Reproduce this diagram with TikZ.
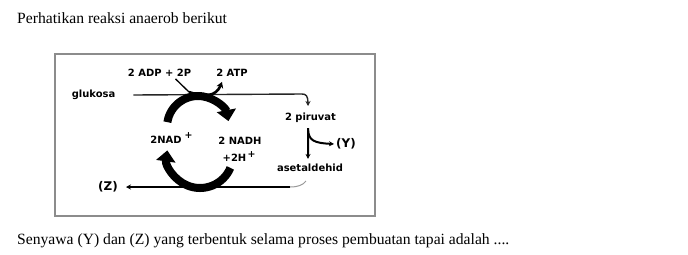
\documentclass[tikz,border=0pt]{standalone}
\usepackage{fontspec}
\setmainfont{Liberation Serif}
\newfontfamily\labelfont{DejaVu Sans}
\usetikzlibrary{arrows.meta,calc}

\begin{document}
\begin{tikzpicture}[x=1bp,y=-1bp,
  lbl/.style={font=\labelfont\bfseries\fontsize{10}{12}\selectfont, inner sep=0pt},
  unknown/.style={font=\labelfont\bfseries\fontsize{12}{14}\selectfont, inner sep=0pt},
  txt/.style={font=\fontsize{15.7}{18}\selectfont, inner sep=0pt, anchor=base west},
  frame/.style={draw=black!45, line width=1.5bp},
  flowline/.style={draw=black!85, line width=1.4bp},
  boldline/.style={draw=black, line width=2bp},
  bigarc/.style={draw=black, line width=8bp, -{Triangle[width=19bp,length=11bp]}},
  smalltip/.style={-{Stealth[length=5bp,width=5bp]}},
  suplbl/.style={font=\labelfont\bfseries\fontsize{9.5}{9.5}\selectfont, inner sep=0pt}
]
\useasboundingbox (0,0) rectangle (688,254);
\fill[white] (0,0) rectangle (688,254);

% question text
\node[txt] (q) at (17,23) {Perhatikan reaksi anaerob berikut};
\node[txt] (ask) at (17,244.5) {Senyawa (Y) dan (Z) yang terbentuk selama proses pembuatan tapai adalah ....};

% frame around the scheme
\draw[frame] (55,54) rectangle (375,216);

% labels
\node[lbl] (glu)  at (93.5,95)  {glukosa};
\node[lbl] (adp)  at (159.5,73) {2 ADP + 2P};
\node[lbl] (atp)  at (232,73)   {2 ATP};
\node[lbl] (piru) at (310.5,118){2 piruvat};
\node[lbl] (aset) at (310,168)  {asetaldehid};
\node[unknown] (Y) at (346,144) {(Y)};
\node[unknown] (Z) at (108,187) {(Z)};
\node[lbl] (nad)  at (166,140)  {2NAD};
\node[suplbl] (nadp) at (188.5,136) {+};
\node[lbl] (nadh) at (240,141)  {2 NADH};
\node[lbl] (hh)   at (234.5,158) {+2H};
\node[suplbl] (hhp) at (251.5,154.5) {+};

% glycolysis line to pyruvate
\coordinate (pin) at (308,106);
\draw[flowline, smalltip] ([xshift=18bp]glu.east) -- (302,94)
  .. controls (306,94) and (308,96) .. (pin);

% ADP in, ATP out
\coordinate (adpfoot) at (189,92);
\draw[draw=black, line width=1.3bp] ([xshift=16bp,yshift=-2bp]adp.south) -- (adpfoot);
\draw[draw=black, line width=2.6bp, -{Stealth[length=6bp,width=7bp]}]
  (adpfoot) .. controls (204,97) and (216,97) .. ([xshift=-10bp,yshift=-5bp]atp.south);

% NAD / NADH cycle
\coordinate (uc) at (198,127);
\coordinate (lc) at (200,155);
\draw[bigarc] ($(uc)+(189:31)$) arc[start angle=189,end angle=349,radius=31];
\draw[bigarc] ($(lc)+(23:33)$) arc[start angle=23,end angle=188,radius=33];

% pyruvate branches
\coordinate (split) at (308,128);
\draw[boldline, -{Stealth[length=5bp,width=5bp]}] (split) -- ([xshift=-2bp,yshift=5bp]aset.north);
\draw[boldline, -{Stealth[length=5bp,width=5bp]}] ([yshift=-2bp]split)
  .. controls (309,140) and (313,143) .. ([xshift=-2bp]Y.west);

% acetaldehyde to product
\coordinate (bend) at (290,187);
\draw[draw=black!40, line width=1bp] (bend) .. controls (298,187) and (303,185) .. (306,181);
\draw[boldline, -{Stealth[length=5bp,width=5bp]}] (bend) -- ([xshift=8bp]Z.east);
\end{tikzpicture}
\end{document}
